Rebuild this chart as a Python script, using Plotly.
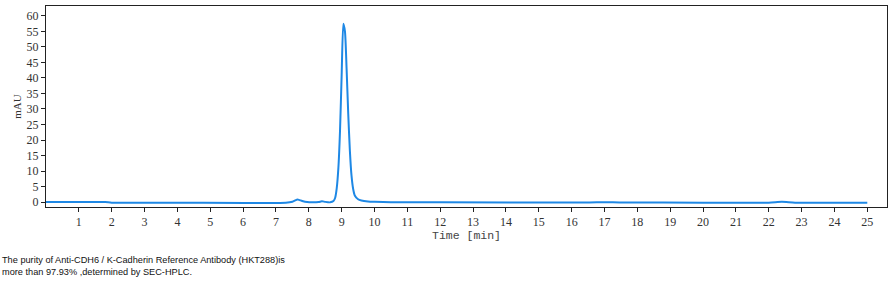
import plotly.graph_objects as go

time_min = [0.0, 1.0, 1.8, 2.0, 4.0, 7.3, 7.5, 7.6, 7.65, 7.7, 7.8, 7.95, 8.1, 8.3, 8.4, 8.5,
            8.65, 8.75, 8.8, 8.85, 8.9, 8.95, 9.0, 9.05, 9.1, 9.15, 9.2, 9.25, 9.3, 9.35, 9.4,
            9.5, 9.6, 9.8, 10.0, 10.5, 12.0, 16.5, 17.0, 17.5, 20.0, 22.0, 22.4, 22.8, 24.0, 25.0]
mau = [0.0, 0.0, 0.0, -0.2, -0.2, -0.2, 0.1, 0.6, 0.8, 0.7, 0.35, 0.0, -0.1, 0.0, 0.25, 0.05,
       -0.1, 0.3, 1.3, 4.5, 11.0, 23.0, 41.0, 57.5, 55.0, 43.0, 28.5, 16.5, 8.5, 4.2, 2.1,
       0.9, 0.5, 0.2, 0.1, -0.05, -0.1, -0.15, -0.05, -0.15, -0.2, -0.2, 0.1, -0.2, -0.2, -0.2]

x_ticks = list(range(1, 26))
y_ticks = list(range(0, 61, 5))
caption = ("The purity of Anti-CDH6 / K-Cadherin Reference Antibody (HKT288)is<br>"
           "more than 97.93% ,determined by SEC-HPLC.")

fig = go.Figure()
fig.add_trace(go.Scatter(x=time_min, y=mau, mode="lines",
                         line=dict(color="rgb(30,136,229)", width=2, shape="spline", smoothing=0.6),
                         hoverinfo="skip", showlegend=False))

axis_common = dict(showgrid=False, zeroline=False, showline=True, linecolor="#222222",
                   linewidth=1, mirror=True, ticks="outside", ticklen=4, tickcolor="#222222",
                   tickfont=dict(family="Liberation Serif", size=12, color="#333333"))

fig.update_layout(
    width=895, height=283,
    margin=dict(l=46, r=8, t=6, b=76),
    paper_bgcolor="white", plot_bgcolor="white",
    xaxis=dict(range=[0, 25.6], tickvals=x_ticks,
               title=dict(text="Time [min]", standoff=0,
                          font=dict(family="Liberation Mono", size=11.5, color="#444444")),
               **axis_common),
    yaxis=dict(range=[-1.6, 63.2], tickvals=y_ticks,
               title=dict(text="mAU", standoff=2,
                          font=dict(family="Liberation Serif", size=11, color="#333333")),
               **axis_common),
    annotations=[dict(text=caption, xref="paper", yref="paper", x=-46/841, y=-0.23,
                      xanchor="left", yanchor="top", align="left", showarrow=False,
                      font=dict(family="Liberation Sans", size=9.2, color="#111111"))],
)

fig.write_html("out.html")
